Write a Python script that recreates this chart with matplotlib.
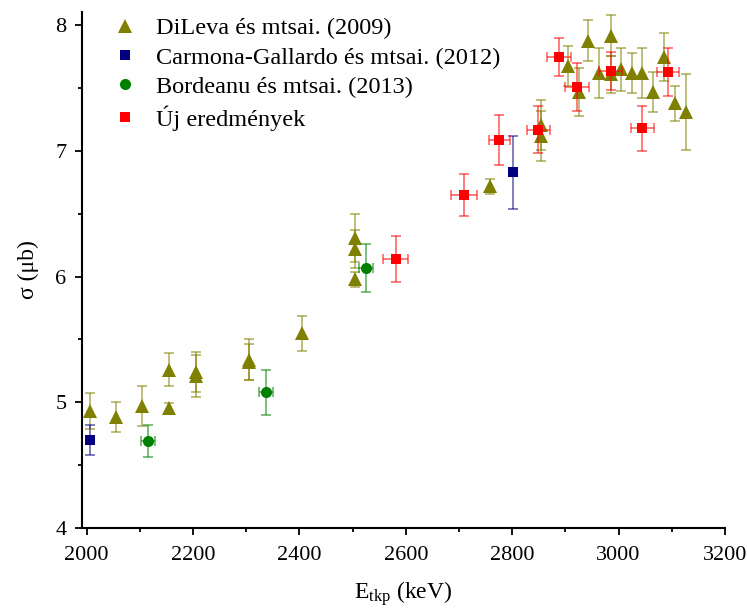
import matplotlib
matplotlib.use("Agg")
import matplotlib.pyplot as plt
from matplotlib.lines import Line2D
from matplotlib.ticker import MultipleLocator

plt.rcParams['font.family'] = ['Liberation Serif', 'DejaVu Serif']
plt.rcParams['mathtext.fontset'] = 'custom'
plt.rcParams['mathtext.rm'] = 'Liberation Serif'
plt.rcParams['mathtext.it'] = 'Liberation Serif:italic'

# DiLeva et al. (2009)
dileva_e = [2006, 2055, 2104, 2155, 2155, 2205, 2205, 2305, 2305, 2405,
            2505, 2505, 2505, 2759, 2855, 2855, 2905, 2925, 2943, 2963,
            2985, 2985, 3005, 3025, 3045, 3065, 3085, 3107, 3126]
dileva_s = [4.93, 4.88, 4.97, 5.26, 4.95, 5.24, 5.21, 5.34, 5.32, 5.55,
            6.31, 6.22, 5.98, 6.72, 7.21, 7.12, 7.68, 7.47, 7.88, 7.62,
            7.92, 7.61, 7.65, 7.62, 7.62, 7.47, 7.75, 7.38, 7.31]
dileva_ds = [0.14, 0.12, 0.16, 0.13, 0.045, 0.16, 0.165, 0.16, 0.14, 0.14,
             0.19, 0.15, 0.06, 0.06, 0.20, 0.20, 0.16, 0.19, 0.165, 0.20,
             0.16, 0.15, 0.17, 0.16, 0.20, 0.16, 0.19, 0.14, 0.30]

# Carmona-Gallardo et al. (2012)
carmona_e = [2006, 2802]
carmona_s = [4.70, 6.83]
carmona_ds = [0.12, 0.29]

# Bordeanu et al. (2013)
bordeanu_e = [2115, 2337, 2525]
bordeanu_s = [4.69, 5.08, 6.07]
bordeanu_ds = [0.13, 0.18, 0.19]
bordeanu_de = [13, 13, 13]

# New results
new_e = [2581, 2709, 2776, 2849, 2888, 2922, 2985, 3045, 3093]
new_s = [6.14, 6.65, 7.085, 7.17, 7.75, 7.51, 7.64, 7.18, 7.63]
new_ds = [0.18, 0.165, 0.20, 0.185, 0.15, 0.19, 0.15, 0.18, 0.19]
new_de = [24, 24, 20, 22, 22, 22, 22, 21, 21]

labels = ["DiLeva és mtsai. (2009)", "Carmona-Gallardo és mtsai. (2012)",
          "Bordeanu és mtsai. (2013)", "Új eredmények"]

fig = plt.figure(figsize=(7.47, 6.13), dpi=100)
ax = fig.add_axes([0.1094, 0.139, 0.861, 0.842])

olive, navy, green, red = '#808000', '#000080', '#008000', '#ff0000'

def draw(x, y, yerr, color, marker, ms, xerr=None):
    ax.errorbar(x, y, yerr=yerr, xerr=xerr, fmt='none',
                ecolor=color, elinewidth=1.3, capsize=3.5,
                capthick=1.3, alpha=0.55)
    ax.plot(x, y, linestyle='none', marker=marker, ms=ms, color=color,
            markeredgewidth=0)

draw(dileva_e, dileva_s, dileva_ds, olive, '^', 9.5)
draw(carmona_e, carmona_s, carmona_ds, navy, 's', 6.5)
draw(bordeanu_e, bordeanu_s, bordeanu_ds, green, 'o', 8, xerr=bordeanu_de)
draw(new_e, new_s, new_ds, red, 's', 7.5, xerr=new_de)

ax.set_xlim(1990.6, 3200)
ax.set_ylim(4, 8.11)
ax.xaxis.set_major_locator(MultipleLocator(200))
ax.xaxis.set_minor_locator(MultipleLocator(100))
ax.yaxis.set_major_locator(MultipleLocator(1))
ax.yaxis.set_minor_locator(MultipleLocator(0.5))

for s in ('top', 'right'):
    ax.spines[s].set_visible(False)
for s in ('left', 'bottom'):
    ax.spines[s].set_linewidth(1.5)

ax.tick_params(which='major', direction='out', length=5, width=1.3,
               labelsize=16)
ax.tick_params(axis='x', which='major', pad=8)
ax.tick_params(axis='y', which='major', pad=6)
ax.tick_params(which='minor', direction='out', length=3, width=1.3)

ax.set_xlabel(r"E$_{\mathrm{tkp}}$ (keV)", fontsize=17, labelpad=10)
ax.set_ylabel("σ (μb)", fontsize=17, labelpad=12)

handles = [Line2D([], [], linestyle='none', marker='^', ms=9.5, color=olive, markeredgewidth=0),
           Line2D([], [], linestyle='none', marker='s', ms=6.5, color=navy, markeredgewidth=0),
           Line2D([], [], linestyle='none', marker='o', ms=8, color=green, markeredgewidth=0),
           Line2D([], [], linestyle='none', marker='s', ms=7.5, color=red, markeredgewidth=0)]
ax.legend(handles, labels, loc='upper left', frameon=False, fontsize=17.5,
          numpoints=1, handletextpad=0.55, labelspacing=0.3,
          bbox_to_anchor=(0.012, 1.022), borderaxespad=0.3, handlelength=1.5)

fig.savefig("out.png", dpi=100)
